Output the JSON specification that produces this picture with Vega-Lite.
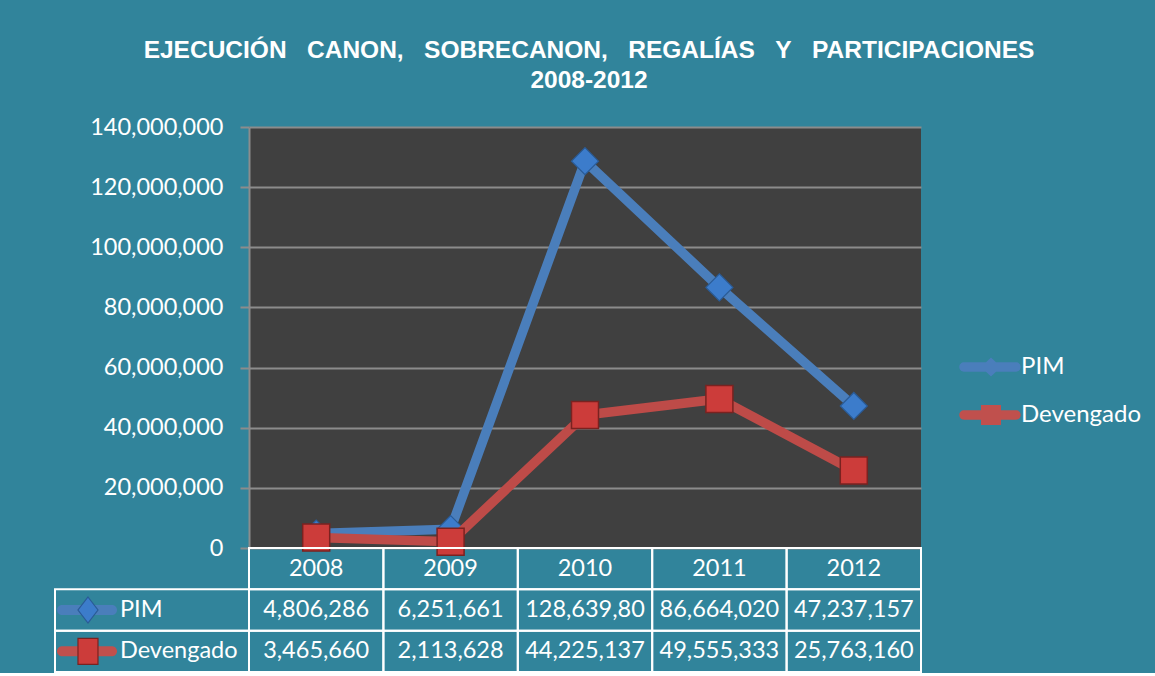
{
  "$schema": "https://vega.github.io/schema/vega-lite/v6.json",
  "background": "#31849B",
  "padding": {"left": 54, "top": 38, "right": 20, "bottom": 0},
  "bounds": "flush",
  "title": {
    "text": ["EJECUCIÓN\u00a0\u00a0\u00a0CANON,\u00a0\u00a0\u00a0SOBRECANON,\u00a0\u00a0\u00a0REGALÍAS\u00a0\u00a0\u00a0Y\u00a0\u00a0\u00a0PARTICIPACIONES", "2008-2012"],
    "font": "Liberation Sans",
    "fontSize": 24.5,
    "fontWeight": "bold",
    "color": "white",
    "anchor": "middle",
    "lineHeight": 29.5,
    "offset": 22,
    "dx": -9
  },
  "datasets": {
    "d": [
      {"year": 2008, "series": "PIM", "value": 4806286, "label": "4,806,286"},
      {"year": 2009, "series": "PIM", "value": 6251661, "label": "6,251,661"},
      {"year": 2010, "series": "PIM", "value": 128639800, "label": "128,639,80"},
      {"year": 2011, "series": "PIM", "value": 86664020, "label": "86,664,020"},
      {"year": 2012, "series": "PIM", "value": 47237157, "label": "47,237,157"},
      {"year": 2008, "series": "Devengado", "value": 3465660, "label": "3,465,660"},
      {"year": 2009, "series": "Devengado", "value": 2113628, "label": "2,113,628"},
      {"year": 2010, "series": "Devengado", "value": 44225137, "label": "44,225,137"},
      {"year": 2011, "series": "Devengado", "value": 49555333, "label": "49,555,333"},
      {"year": 2012, "series": "Devengado", "value": 25763160, "label": "25,763,160"}
    ]
  },
  "data": {"name": "d"},
  "spacing": 0,
  "resolve": {"scale": {"x": "independent", "y": "independent", "color": "independent", "shape": "independent"}},
  "vconcat": [
    {
      "width": 672,
      "height": 421,
      "view": {"fill": "#404040", "stroke": null},
      "encoding": {
        "x": {"field": "year", "type": "ordinal", "axis": null, "scale": {"type": "point", "padding": 0.5}},
        "y": {
          "field": "value",
          "type": "quantitative",
          "scale": {"domain": [0, 140000000], "nice": false},
          "axis": {
            "title": null,
            "values": [0, 20000000, 40000000, 60000000, 80000000, 100000000, 120000000, 140000000],
            "format": ",d",
            "labelFont": "Lato",
            "labelFontSize": 23.5,
            "labelColor": "white",
            "labelPadding": 17,
            "labelFlush": false,
            "tickSize": 9,
            "tickColor": "#8C8C8C",
            "tickWidth": 2,
            "domainColor": "#8C8C8C",
            "domainWidth": 2,
            "gridColor": "#8C8C8C",
            "gridWidth": 2
          }
        }
      },
      "layer": [
        {
          "transform": [{"filter": "datum.series === 'PIM'"}],
          "mark": {"type": "line", "color": "#4A7EBB", "strokeWidth": 9.5}
        },
        {
          "transform": [{"filter": "datum.series === 'PIM'"}],
          "mark": {"type": "point", "shape": "diamond", "filled": true, "size": 729, "fill": "#3C7CCB", "stroke": "#2A5B96", "strokeWidth": 1.2, "opacity": 1}
        },
        {
          "transform": [{"filter": "datum.series === 'Devengado'"}],
          "mark": {"type": "line", "color": "#BE4B48", "strokeWidth": 9.5}
        },
        {
          "transform": [{"filter": "datum.series === 'Devengado'"}],
          "mark": {"type": "point", "shape": "square", "filled": true, "size": 729, "fill": "#CC3C3A", "stroke": "#7A2220", "strokeWidth": 1.5, "opacity": 1}
        },
        {
          "transform": [{"filter": "datum.value < 0"}],
          "mark": {"type": "point", "filled": true},
          "encoding": {
            "color": {
              "field": "series",
              "type": "nominal",
              "scale": {"domain": ["PIM", "Devengado"], "range": ["#4A7EBB", "#C0504D"]},
              "legend": {
                "title": null,
                "orient": "none",
                "legendX": 730,
                "legendY": 228,
                "padding": 0,
                "symbolSize": 400,
                "symbolStrokeWidth": 0,
                "symbolOpacity": 1,
                "labelFont": "Lato",
                "labelFontSize": 24,
                "labelColor": "white",
                "labelOffset": 18,
                "rowPadding": 24
              }
            },
            "shape": {
              "field": "series",
              "type": "nominal",
              "scale": {
                "domain": ["PIM", "Devengado"],
                "range": [
                  "M-2.7,-0.47L2.5,-0.47A0.47,0.47 0 0 1 2.5,0.47L-2.7,0.47A0.47,0.47 0 0 1 -2.7,-0.47Z M0,-0.95L1,0L0,0.95L-1,0Z",
                  "M-2.7,-0.47L2.5,-0.47A0.47,0.47 0 0 1 2.5,0.47L-2.7,0.47A0.47,0.47 0 0 1 -2.7,-0.47Z M-1,-1L1,-1L1,1L-1,1Z"
                ]
              },
              "legend": {
                "title": null,
                "orient": "none",
                "legendX": 730,
                "legendY": 228,
                "padding": 0,
                "symbolSize": 400,
                "symbolStrokeWidth": 0,
                "symbolOpacity": 1,
                "labelFont": "Lato",
                "labelFontSize": 24,
                "labelColor": "white",
                "labelOffset": 18,
                "rowPadding": 24
              }
            }
          }
        }
      ]
    },
    {
      "width": 672,
      "height": 124,
      "resolve": {"scale": {"x": "independent"}},
      "layer": [
        {
          "transform": [{"filter": "datum.series === 'PIM'"}],
          "mark": {"type": "rect", "filled": false, "stroke": "white", "strokeWidth": 2},
          "encoding": {
            "x": {"field": "year", "type": "ordinal", "axis": null, "scale": {"type": "band", "paddingInner": 0, "paddingOuter": 0}},
            "y": {"datum": "hdr", "type": "nominal", "axis": null, "scale": {"domain": ["hdr", "PIM", "Devengado"], "paddingInner": 0, "paddingOuter": 0}}
          }
        },
        {
          "transform": [{"filter": "datum.series === 'PIM'"}],
          "mark": {"type": "text", "font": "Lato", "fontSize": 23.5, "color": "white", "baseline": "middle", "align": "center"},
          "encoding": {
            "x": {"field": "year", "type": "ordinal", "axis": null, "scale": {"type": "band", "paddingInner": 0, "paddingOuter": 0}},
            "y": {"datum": "hdr", "type": "nominal", "axis": null, "scale": {"domain": ["hdr", "PIM", "Devengado"], "paddingInner": 0, "paddingOuter": 0}},
            "text": {"field": "year", "type": "nominal"}
          }
        },
        {
          "mark": {"type": "rect", "filled": false, "stroke": "white", "strokeWidth": 2},
          "encoding": {
            "x": {"field": "year", "type": "ordinal", "axis": null, "scale": {"type": "band", "paddingInner": 0, "paddingOuter": 0}},
            "y": {"field": "series", "type": "nominal", "axis": null, "scale": {"domain": ["hdr", "PIM", "Devengado"], "paddingInner": 0, "paddingOuter": 0}}
          }
        },
        {
          "mark": {"type": "text", "font": "Lato", "fontSize": 23.5, "color": "white", "baseline": "middle", "align": "center"},
          "encoding": {
            "x": {"field": "year", "type": "ordinal", "axis": null, "scale": {"type": "band", "paddingInner": 0, "paddingOuter": 0}},
            "y": {"field": "series", "type": "nominal", "axis": null, "scale": {"domain": ["hdr", "PIM", "Devengado"], "paddingInner": 0, "paddingOuter": 0}},
            "text": {"field": "label", "type": "nominal"}
          }
        },
        {
          "transform": [{"filter": "datum.year === 2008"}],
          "mark": {"type": "rect", "filled": false, "stroke": "white", "strokeWidth": 2},
          "encoding": {
            "x": {"datum": 0, "type": "quantitative", "axis": null, "scale": {"domain": [0, 1], "range": [-194, 0], "nice": false, "zero": false}},
            "x2": {"datum": 1},
            "y": {"field": "series", "type": "nominal", "axis": null, "scale": {"domain": ["hdr", "PIM", "Devengado"], "paddingInner": 0, "paddingOuter": 0}}
          }
        },
        {
          "transform": [{"filter": "datum.year === 2008"}],
          "mark": {"type": "point", "filled": true, "size": 400, "opacity": 1, "strokeWidth": 0, "shape": "M-2.5,-0.5L2.5,-0.5A0.5,0.5 0 0 1 2.5,0.5L-2.5,0.5A0.5,0.5 0 0 1 -2.5,-0.5Z"},
          "encoding": {
            "x": {"datum": 0.165, "type": "quantitative", "axis": null, "scale": {"domain": [0, 1], "range": [-194, 0], "nice": false, "zero": false}},
            "y": {"field": "series", "type": "nominal", "axis": null, "scale": {"domain": ["hdr", "PIM", "Devengado"], "paddingInner": 0, "paddingOuter": 0}},
            "fill": {"condition": {"test": "datum.series === 'PIM'", "value": "#4A7EBB"}, "value": "#C0504D"}
          }
        },
        {
          "transform": [{"filter": "datum.year === 2008"}],
          "mark": {"type": "point", "filled": true, "size": 400, "opacity": 1, "strokeWidth": 1.2},
          "encoding": {
            "x": {"datum": 0.17, "type": "quantitative", "axis": null, "scale": {"domain": [0, 1], "range": [-194, 0], "nice": false, "zero": false}},
            "y": {"field": "series", "type": "nominal", "axis": null, "scale": {"domain": ["hdr", "PIM", "Devengado"], "paddingInner": 0, "paddingOuter": 0}},
            "shape": {"condition": {"test": "datum.series === 'PIM'", "value": "M0,-1.3L1,0L0,1.3L-1,0Z"}, "value": "M-1,-1.3L1,-1.3L1,1.3L-1,1.3Z"},
            "fill": {"condition": {"test": "datum.series === 'PIM'", "value": "#3C7CCB"}, "value": "#CC3C3A"},
            "stroke": {"condition": {"test": "datum.series === 'PIM'", "value": "#2A5B96"}, "value": "#7A2220"}
          }
        },
        {
          "transform": [{"filter": "datum.year === 2008"}],
          "mark": {"type": "text", "font": "Lato", "fontSize": 23.5, "color": "white", "baseline": "middle", "align": "left"},
          "encoding": {
            "x": {"datum": 0.335, "type": "quantitative", "axis": null, "scale": {"domain": [0, 1], "range": [-194, 0], "nice": false, "zero": false}},
            "y": {"field": "series", "type": "nominal", "axis": null, "scale": {"domain": ["hdr", "PIM", "Devengado"], "paddingInner": 0, "paddingOuter": 0}},
            "text": {"field": "series", "type": "nominal"}
          }
        }
      ]
    }
  ],
  "config": {
    "view": {"stroke": null},
    "font": "Lato"
  }
}
